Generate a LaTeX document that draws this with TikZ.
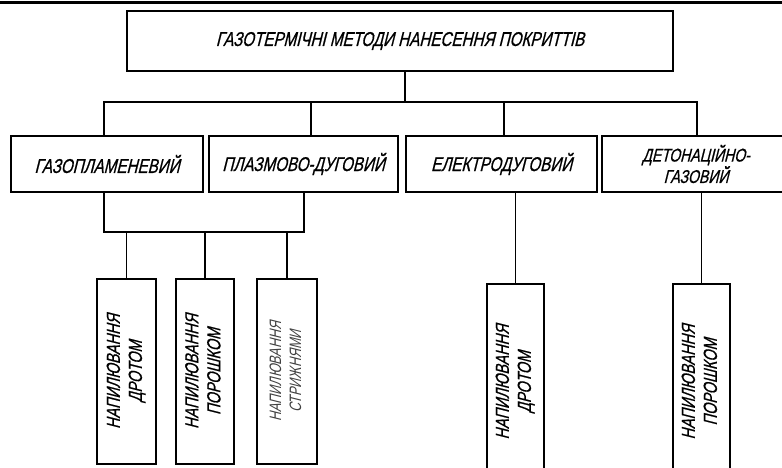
\documentclass[tikz,border=0pt]{standalone}
\usepackage{fontspec}
\usepackage{graphicx}
\usepackage{tikz}
\newfontfamily\cadfont[FakeSlant=0.25,FakeStretch=0.76,FakeBold=0.7]{Liberation Sans}
\newfontfamily\cadlight[FakeSlant=0.25,FakeStretch=0.76]{Liberation Sans}

\begin{document}
\begin{tikzpicture}[x=1pt,y=-1pt,
        box/.style={draw,line width=1.3pt,inner sep=0pt,align=center,
            font=\cadfont\fontsize{20}{22}\selectfont},
        stripbox/.style={box,minimum width=58,minimum height=185,
            font=\cadfont\fontsize{19}{22}\selectfont},
        link/.style={line width=1.3pt}]
    \useasboundingbox (0,0) rectangle (782,468);
    \clip (0,0) rectangle (782,468);
    \draw [line width=3pt] (0,3) -- (782,3);

    \node [box,minimum width=546,minimum height=60] (title) at (400,41)
        {ГАЗОТЕРМІЧНІ МЕТОДИ НАНЕСЕННЯ ПОКРИТТІВ};
    \node [box,minimum width=192,minimum height=56] (gaz) at (107,164) {ГАЗОПЛАМЕНЕВИЙ};
    \node [box,minimum width=189,minimum height=56] (plasma) at (303.5,164) {ПЛАЗМОВО-ДУГОВИЙ};
    \node [box,minimum width=191,minimum height=56] (electro) at (501.5,164) {ЕЛЕКТРОДУГОВИЙ};
    \node [box,minimum width=188,minimum height=56,
        font=\cadfont\fontsize{18.5}{16.5}\selectfont] (deton) at (696,164) {ДЕТОНАЦІЙНО-\\ГАЗОВИЙ};

    \node [stripbox,minimum width=59] (sprayWire) at (126.5,371.5)
        {\rotatebox{90}{\begin{tabular}{@{}c@{}}НАПИЛЮВАННЯ\\ДРОТОМ\end{tabular}}};
    \node [stripbox] (sprayPowder) at (205,371.5)
        {\rotatebox{90}{\begin{tabular}{@{}c@{}}НАПИЛЮВАННЯ\\ПОРОШКОМ\end{tabular}}};
    \node [stripbox,minimum width=60,font=\cadlight\fontsize{16.5}{20}\selectfont,text=black!75] (sprayRod) at (287,371.5)
        {\rotatebox{90}{\begin{tabular}{@{}c@{}}НАПИЛЮВАННЯ\\СТРИЖНЯМИ\end{tabular}}};
    \node [stripbox,minimum width=57,minimum height=196] (arcWire) at (515.5,382)
        {\rotatebox{90}{\begin{tabular}{@{}c@{}}НАПИЛЮВАННЯ\\ДРОТОМ\end{tabular}}};
    \node [stripbox,minimum width=57,minimum height=196] (detPowder) at (701.5,382)
        {\rotatebox{90}{\begin{tabular}{@{}c@{}}НАПИЛЮВАННЯ\\ПОРОШКОМ\end{tabular}}};

    \coordinate (bus) at (405,102);
    \coordinate (busL) at (104,102);
    \coordinate (busP) at (311,102);
    \coordinate (busE) at (504,102);
    \coordinate (busR) at (697,102);
    \coordinate (sub) at (104,232);
    \coordinate (subR) at (304,232);

    \draw [link] (title.south -| bus) -- (bus);
    \draw [link] (busL |- gaz.north) |- (busR) -- (busR |- deton.north);
    \draw [link] (busP) -- (busP |- plasma.north);
    \draw [link] (busE) -- (busE |- electro.north);
    \draw [link] (sub |- gaz.south) |- (subR) -- (subR |- plasma.south);
    \draw [link] (sprayWire.north) -- (sprayWire.north |- sub);
    \draw [link] (sprayPowder.north) -- (sprayPowder.north |- sub);
    \draw [link] (sprayRod.north) -- (sprayRod.north |- sub);
    \draw [link] (arcWire.north) -- (arcWire.north |- electro.south);
    \draw [link] (detPowder.north) -- (detPowder.north |- deton.south);
\end{tikzpicture}
\end{document}
